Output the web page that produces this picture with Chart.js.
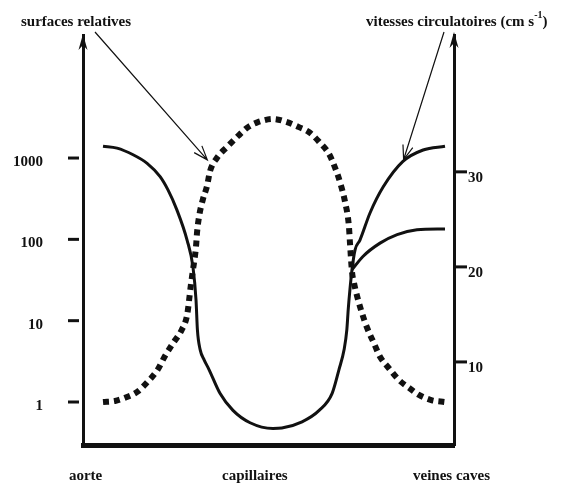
<!DOCTYPE html>
<html>
<head>
<meta charset="utf-8">
<script src="https://cdn.jsdelivr.net/npm/chart.js@4/dist/chart.umd.min.js"></script>
<style>
  html, body { margin: 0; padding: 0; background: #fff; }
  canvas { display: block; }
</style>
</head>
<body>
<canvas id="circulation" width="564" height="486"></canvas>
<script>
"use strict";
// position along the circuit (0 = aorte, 100 = veines caves)
const surfX = [0, 3.5, 7, 10, 13, 16, 18, 20.5, 23, 24.6, 25.7, 26.3, 27.2, 27.5, 28.1, 29.2, 30.4, 31.3,
    33.3, 36.5, 39.5, 42.4, 45.3, 49.7, 53.8, 57.3, 60.2, 63.2, 66.1, 67.8, 69.3, 70.8, 71.9, 72.2, 72.8,
    73.4, 74.3, 75.7, 77.2, 79.2, 81, 83.6, 86.5, 89.5, 92.4, 96.2, 100];
// surfaces relatives (log scale)
const surfY = [1.0, 1.03, 1.15, 1.33, 1.76, 2.5, 3.6, 5.3, 7.7, 11.8, 27.6, 42, 82, 122, 192, 310, 450, 690,
    1000, 1400, 1870, 2400, 2760, 3020, 2760, 2400, 2090, 1580, 1120, 770, 505, 285, 145, 92, 40,
    29, 20, 12.5, 8.2, 5.3, 3.6, 2.6, 1.87, 1.49, 1.22, 1.05, 1.0];
// vitesses circulatoires (cm/s), main curve
const vitX = [0, 4.1, 8.8, 12.9, 16.7, 19, 21.6, 24.6, 26.3, 27.2, 27.6, 28.4, 29.6, 31.0, 34.2, 38, 43, 49.7,
    52.3, 58.2, 63.2, 67, 69.0, 70.5, 71.3, 71.7, 72.2, 72.8, 73.7, 75.1, 78.1, 81.9, 87.7, 93.6, 100];
const vitY = [32.7, 32.5, 31.8, 30.9, 29.5, 28.1, 26.0, 22.8, 20.0, 16.5, 13.4, 11.3, 10.2, 9.2, 6.7, 4.9, 3.6, 3.0,
    3.05, 3.7, 4.9, 6.7, 9.2, 11.3, 13.4, 15.5, 17.6, 19.7, 21.8, 22.8, 25.7, 28.4, 31.1, 32.3, 32.7];
// lower branch of the speed curve on the venous side
const branchX = [72.8, 76, 81, 86, 91.8, 100];
const branchY = [19.7, 21.1, 22.5, 23.4, 23.9, 24.0];

const surfaceTicks = [1, 10, 100, 1000];
const speedTicks = [10, 20, 30];
const sectionLabels = ['aorte', 'capillaires', 'veines caves'];
const sectionPos = [-5.1, 44.4, 101.9];

const INK = '#111';
const FONT = { family: '"Liberation Serif", "Times New Roman", serif', size: 15, weight: 'bold' };

function toPoints(xs, ys) {
    return xs.map((x, i) => ({ x: x, y: ys[i] }));
}

/**
 * Draws an arrow line with an open V head at (x2, y2).
 */
function arrowLine(ctx, x1, y1, x2, y2) {
    const a = Math.atan2(y2 - y1, x2 - x1);
    ctx.beginPath();
    ctx.moveTo(x1, y1);
    ctx.lineTo(x2, y2);
    ctx.moveTo(x2 - 15 * Math.cos(a - 0.35), y2 - 15 * Math.sin(a - 0.35));
    ctx.lineTo(x2, y2);
    ctx.lineTo(x2 - 15 * Math.cos(a + 0.35), y2 - 15 * Math.sin(a + 0.35));
    ctx.stroke();
}

function axisHead(ctx, x, y) {
    ctx.beginPath();
    ctx.moveTo(x, y);
    ctx.lineTo(x - 4.5, y + 16);
    ctx.lineTo(x, y + 11);
    ctx.lineTo(x + 4.5, y + 16);
    ctx.closePath();
    ctx.fill();
}

// the layout would otherwise reserve room for half a label at each end
function noEdgePadding(scale) {
    scale.paddingTop = 0;
    scale.paddingBottom = 0;
    scale.paddingLeft = 0;
    scale.paddingRight = 0;
}

// axis arrows, tick dashes, titles and the two pointer arrows
const decorations = {
    id: 'decorations',
    afterDraw(chart) {
        const ctx = chart.ctx;
        const area = chart.chartArea;
        const xs = chart.scales.x, ys = chart.scales.yS, yv = chart.scales.yV;
        ctx.save();
        ctx.fillStyle = INK;
        ctx.strokeStyle = INK;

        axisHead(ctx, area.left, area.top - 1);
        axisHead(ctx, area.right, area.top - 3);

        ctx.lineWidth = 3;
        surfaceTicks.forEach(v => {
            const y = ys.getPixelForValue(v);
            ctx.beginPath();
            ctx.moveTo(area.left - 15, y);
            ctx.lineTo(area.left - 4, y);
            ctx.stroke();
        });
        speedTicks.forEach(v => {
            const y = yv.getPixelForValue(v);
            ctx.beginPath();
            ctx.moveTo(area.right + 2, y);
            ctx.lineTo(area.right + 13, y);
            ctx.stroke();
        });

        ctx.font = 'bold 15px "Liberation Serif", serif';
        ctx.textBaseline = 'middle';
        ctx.textAlign = 'center';
        ctx.fillText('surfaces relatives', area.left - 7, 22);

        ctx.textAlign = 'left';
        let tx = area.right - 88;
        const main = 'vitesses circulatoires (cm s';
        ctx.fillText(main, tx, 22);
        tx += ctx.measureText(main).width;
        ctx.font = 'bold 10px "Liberation Serif", serif';
        ctx.fillText('-1', tx, 15);
        tx += ctx.measureText('-1').width;
        ctx.font = 'bold 15px "Liberation Serif", serif';
        ctx.fillText(')', tx, 22);

        ctx.lineWidth = 1.2;
        arrowLine(ctx, area.left + 12, 32, xs.getPixelForValue(30.5), ys.getPixelForValue(950));
        arrowLine(ctx, area.right - 10, 32, xs.getPixelForValue(87.9), yv.getPixelForValue(31.3));
        ctx.restore();
    }
};

const ctx = document.getElementById('circulation');
const chart = new Chart(ctx, {
    type: 'line',
    data: {
        datasets: [{
            label: 'surfaces relatives',
            data: toPoints(surfX, surfY),
            yAxisID: 'yS',
            borderColor: INK,
            borderWidth: 6,
            borderDash: [6, 5],
            borderCapStyle: 'butt',
            pointRadius: 0,
            cubicInterpolationMode: 'monotone'
        }, {
            label: 'vitesses circulatoires',
            data: toPoints(vitX, vitY),
            yAxisID: 'yV',
            borderColor: INK,
            borderWidth: 3,
            pointRadius: 0,
            cubicInterpolationMode: 'monotone'
        }, {
            label: 'vitesses (branche)',
            data: toPoints(branchX, branchY),
            yAxisID: 'yV',
            borderColor: INK,
            borderWidth: 3,
            pointRadius: 0,
            cubicInterpolationMode: 'monotone'
        }]
    },
    options: {
        responsive: false,
        animation: false,
        layout: { padding: { top: 35, left: 0, right: 0, bottom: 0 } },
        plugins: {
            legend: { display: false },
            tooltip: { enabled: false }
        },
        scales: {
            x: {
                type: 'linear',
                position: 'bottom',
                min: -5.85,
                max: 102.63,
                bounds: 'data',
                grid: { display: false, drawTicks: false },
                border: { color: INK, width: 5 },
                afterBuildTicks: scale => { scale.ticks = sectionPos.map(v => ({ value: v })); },
                afterFit: scale => { scale.height = 41; noEdgePadding(scale); },
                ticks: {
                    autoSkip: false,
                    maxRotation: 0,
                    padding: 22,
                    color: INK,
                    font: FONT,
                    callback: (value, index) => sectionLabels[index]
                }
            },
            yS: {
                type: 'logarithmic',
                position: 'left',
                min: 0.296,
                max: 32570,
                bounds: 'data',
                grid: { display: false, drawTicks: false },
                border: { color: INK, width: 3 },
                afterBuildTicks: scale => { scale.ticks = surfaceTicks.map(v => ({ value: v })); },
                afterFit: scale => { scale.width = 83; noEdgePadding(scale); },
                ticks: {
                    padding: 40,
                    labelOffset: 4,
                    color: INK,
                    font: FONT,
                    callback: value => String(value)
                }
            },
            yV: {
                type: 'linear',
                position: 'right',
                min: 1.26,
                max: 44.4,
                bounds: 'data',
                grid: { display: false, drawTicks: false },
                border: { color: INK, width: 3 },
                afterBuildTicks: scale => { scale.ticks = speedTicks.map(v => ({ value: v })); },
                afterFit: scale => { scale.width = 110; noEdgePadding(scale); },
                ticks: {
                    padding: 14,
                    labelOffset: 6,
                    color: INK,
                    font: FONT,
                    callback: value => String(value)
                }
            }
        }
    },
    plugins: [decorations]
});
</script>
</body>
</html>
